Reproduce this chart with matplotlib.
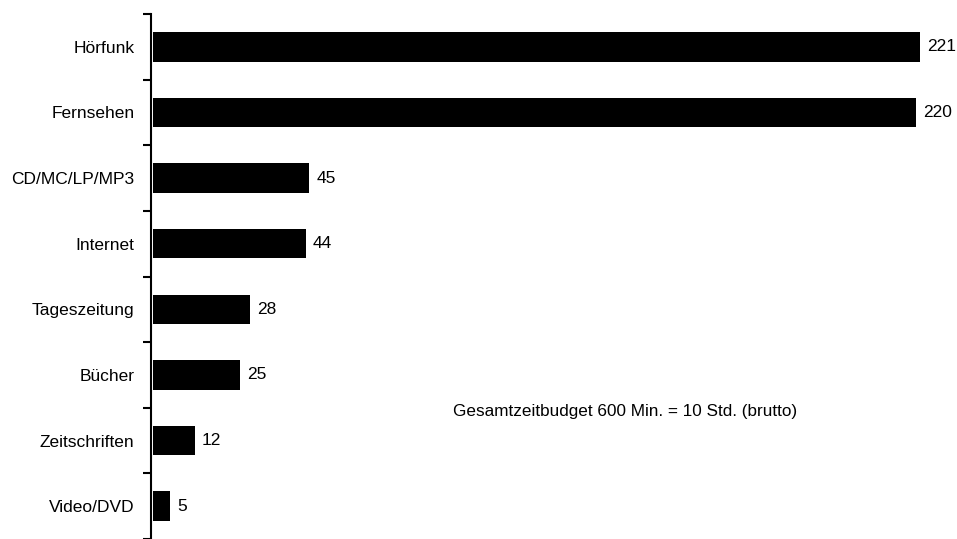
import matplotlib.pyplot as plt
import numpy as np

plt.rcParams['font.family'] = ['Liberation Sans', 'DejaVu Sans']

# Mediennutzung in Minuten
kategorien = ['Hörfunk', 'Fernsehen', 'CD/MC/LP/MP3', 'Internet',
              'Tageszeitung', 'Bücher', 'Zeitschriften', 'Video/DVD']
minuten = [221, 220, 45, 44, 28, 25, 12, 5]

fig = plt.figure(figsize=(9.57, 5.39), dpi=100)
ax = fig.add_axes([151 / 957, 0.0, 1 - 151 / 957, 1 - 14 / 539])

y = np.arange(len(kategorien))
ax.barh(y, minuten, height=0.45, color='black', left=0.6)

for yi, wert in zip(y, minuten):
    ax.annotate(str(wert), xy=(wert + 0.6, yi), xytext=(5, 0),
                textcoords='offset points', va='center', ha='left', fontsize=12.5)

ax.set_xlim(0, (957 - 151) / 3.47)
ax.set_ylim(len(kategorien) - 0.5, -0.5)

ax.set_yticks(y)
ax.set_yticklabels(kategorien, fontsize=12.5)
ax.tick_params(axis='y', which='major', length=0, pad=12)
ax.set_yticks(np.arange(-0.5, len(kategorien)), minor=True)
ax.tick_params(axis='y', which='minor', length=6, width=1.5, direction='out')

ax.set_xticks([])
for s in ['top', 'right', 'bottom']:
    ax.spines[s].set_visible(False)
ax.spines['left'].set_linewidth(1.5)

ax.text(87, 5.55, 'Gesamtzeitbudget 600 Min. = 10 Std. (brutto)',
        ha='left', va='center', fontsize=12.3)

fig.savefig('out.png', dpi=100)
